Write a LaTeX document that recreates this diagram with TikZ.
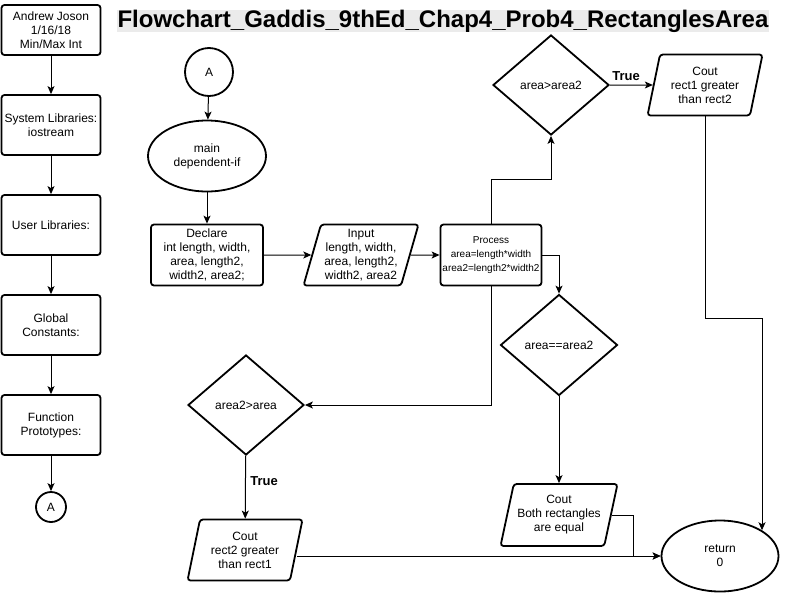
\documentclass[tikz,border=0pt]{standalone}
\usepackage{fontspec}
\setmainfont{Liberation Sans}
\usetikzlibrary{shapes.geometric,arrows.meta}

\begin{document}
\begin{tikzpicture}[x=1pt, y=-1pt,
	every node/.style={font=\fontsize{12}{14}\selectfont, align=center},
	box/.style={draw, line width=1.8pt, rounded corners=3pt, inner sep=2pt},
	io/.style={draw, trapezium, trapezium left angle=72, trapezium right angle=108, trapezium stretches body, line width=1.8pt, rounded corners=3pt, inner xsep=-8pt, inner ysep=1pt, minimum width=115pt, minimum height=61pt},
	decision/.style={draw, diamond, line width=1.8pt, inner sep=0pt, minimum width=116pt, minimum height=100pt},
	term/.style={draw, ellipse, line width=1.8pt, inner sep=0pt, minimum width=118pt, minimum height=71pt},
	conn/.style={draw, circle, line width=1.8pt, inner sep=0pt},
	flow/.style={line width=1pt, -{Stealth[length=8pt, width=7pt, inset=2pt]}},
	truelabel/.style={font=\fontsize{13}{15}\selectfont\bfseries}]
			%%%%% START %%%%%
			\useasboundingbox (0, 0) rectangle (797, 592);
			
			\node[fill=black!8, inner xsep=1pt, inner ysep=0pt, font=\fontsize{24}{26}\selectfont\bfseries] (title) at (443, 21) {Flowchart\_Gaddis\_9thEd\_Chap4\_Prob4\_RectanglesArea};
			
			\node[box, minimum width=99pt, minimum height=50pt] (author) at (51, 30) {Andrew Joson\\1/16/18\\Min/Max Int};
			\node[box, minimum width=99pt, minimum height=60pt] (syslib) at (51, 125) {System Libraries:\\iostream};
			\node[box, minimum width=99pt, minimum height=60pt] (userlib) at (51, 225) {User Libraries:};
			\node[box, minimum width=99pt, minimum height=60pt] (globconst) at (51, 325) {Global\\Constants:};
			\node[box, minimum width=99pt, minimum height=60pt] (funcproto) at (51, 425) {Function\\Prototypes:};
			\node[conn, minimum size=30pt] (offA) at (51, 507) {A};
			
			\node[conn, minimum size=48pt] (onA) at (209, 72) {A};
			\node[term] (main) at (207, 156) {main\\dependent-if};
			\node[box, minimum width=112pt, minimum height=61pt] (declare) at (207, 255) {Declare\\int length, width,\\area, length2,\\width2, area2;};
			\node[io] (input) at (361, 255) {Input\\length, width,\\area, length2,\\width2, area2};
			\node[box, minimum width=101pt, minimum height=61pt, font=\fontsize{10}{14}\selectfont] (process) at (491, 255) {Process\\area=length*width\\area2=length2*width2};
			
			\node[decision] (big1) at (551, 85) {area>area2};
			\node[io] (out1) at (705, 85) {Cout\\rect1 greater\\than rect2};
			\node[truelabel] (true1) at (626, 76) {True};
			
			\node[decision, minimum width=117pt, minimum height=101pt] (same) at (559, 345) {area==area2};
			\node[io, minimum width=117pt, minimum height=62pt] (outsame) at (559, 515) {Cout\\Both rectangles\\are equal};
			
			\node[decision] (big2) at (246, 405) {area2>area};
			\node[io] (out2) at (245, 550) {Cout\\rect2 greater\\than rect1};
			\node[truelabel] (true2) at (264, 481) {True};
			
			\node[term, minimum width=117pt] (ret) at (720, 556) {return\\0};
			
			\draw[flow] (author) -- (syslib);
			\draw[flow] (syslib) -- (userlib);
			\draw[flow] (userlib) -- (globconst);
			\draw[flow] (globconst) -- (funcproto);
			\draw[flow] (funcproto) -- (offA);
			
			\draw[flow] (onA) -- (main);
			\draw[flow] (main) -- (declare);
			\draw[flow] (declare) -- (input);
			\draw[flow] (input) -- (process);
			\draw[flow] (process.north) -- ++(0, -44) -| (big1.south);
			\draw[flow] (process.east) -| (same.north);
			\draw[flow] (process.south) |- (big2.east);
			
			\draw[flow] (big1) -- (out1);
			\draw[flow] (out1.south) -- ++(0, 202) -| (ret.north east);
			\draw[flow] (same) -- (outsame);
			\draw[flow] (outsame.east) -- ++(22, 0) |- (ret.west);
			\draw[flow] (big2) -- (out2);
			\draw[flow] (out2.east |- ret.west) -- (ret.west);
			%%%%% END %%%%%
\end{tikzpicture}
\end{document}
